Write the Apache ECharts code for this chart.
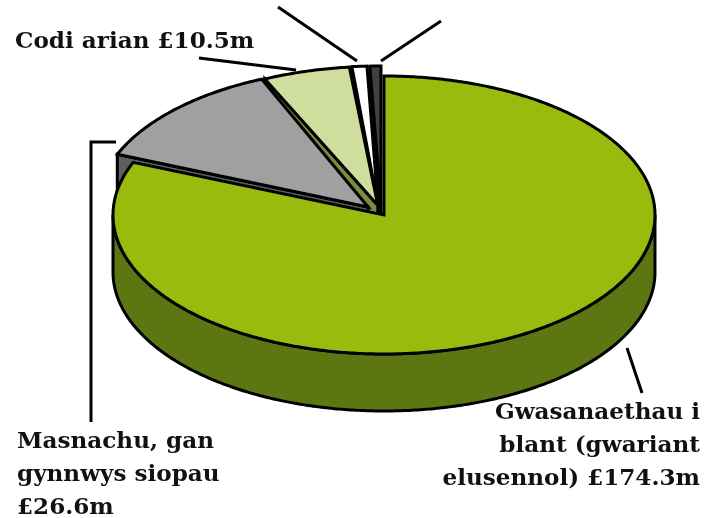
<!DOCTYPE html>
<html><head><meta charset="utf-8">
<style>html,body{margin:0;padding:0;background:#fff}#c{width:718px;height:518px}</style>
<script src="https://cdn.jsdelivr.net/npm/echarts@6/dist/echarts.min.js"></script>
</head><body><div id="c"></div>
<script>
// clockwise from 12 o'clock
const categories = ['Gwasanaethau i blant', 'Masnachu', 'Codi arian', 'Arall 1', 'Arall 2'];
const values = [174.3, 26.6, 10.5, 1.9, 1.4];
const topColors = ['#99BB0D', '#A0A0A0', '#CFDE9C', '#FFFFFF', '#404040'];
const sideColors = ['#5C7712', '#5F5F5F', '#7B8C3E', '#999999', '#262626'];
const paintOrder = [4, 3, 2, 1, 0];
const exploded = [0, 1, 1, 1, 1];
const nudgeX = [0, -2, -1, -4.6, -2.6];
const nudgeY = [0, -1, 0, 0, 0];
const startNudgeDeg = [0, 0, -1.5, 0, 0];
const endNudgeDeg = [0, 0, -0.5, 0, 0];

const labelLines = [
  {lines: ['Codi arian £10.5m'], x: 15, y: 48, align: 'left'},
  {lines: ['Masnachu, gan', 'gynnwys siopau', '£26.6m'], x: 17, y: 448, align: 'left'},
  {lines: ['Gwasanaethau i', 'blant (gwariant', 'elusennol) £174.3m'], x: 700, y: 419, align: 'right'}
];
const leaders = [
  [[199,58],[296,70]],
  [[278,7],[357,61]],
  [[441,21],[381,61]],
  [[116,142],[91,142],[91,422]],
  [[627,348],[642,393]]
];

const cx = 384, cy = 215, rx = 271, ry = 139, depth = 57, explode = 0.072, sw = 3;
const DEG = Math.PI/180;
const total = values.reduce((a,b)=>a+b,0);
let acc = 0;
const slices = values.map((v,i)=>{const s=acc/total*Math.PI*2; acc+=v; return {s:s+startNudgeDeg[i]*DEG, e:acc/total*Math.PI*2+endNudgeDeg[i]*DEG};});

function renderItem(params, api){
  const i = api.value(0);
  const {s,e} = slices[i];
  const m = (s+e)/2, k = exploded[i]*explode;
  const ox = cx + Math.sin(m)*rx*k + nudgeX[i], oy = cy - Math.cos(m)*ry*k + nudgeY[i];
  const P = (t,dz=0)=>[ox+Math.sin(t)*rx, oy-Math.cos(t)*ry+dz];
  const arc = (a,b,dz=0)=>{const n=Math.max(2,Math.ceil(Math.abs(b-a)/0.01)),r=[];for(let j=0;j<=n;j++)r.push(P(a+(b-a)*j/n,dz));return r;};
  const style = f=>({fill:f,stroke:'#000',lineWidth:sw,lineJoin:'miter',miterLimit:10});
  const children = [];
  if (i===0){
    const a=Math.PI/2,b=Math.PI*1.5;
    const top=arc(a,b),bot=arc(b,a,depth);
    children.push({type:'polygon',shape:{points:top.concat(bot)},style:style(sideColors[i])});
  } else {
    const w=[[ox,oy],P(s),P(s,depth),[ox,oy+depth]];
    children.push({type:'polygon',shape:{points:w},style:style(sideColors[i])});
  }
  children.push({type:'polygon',shape:{points:[[ox,oy]].concat(arc(s,e))},style:style(topColors[i])});
  return {type:'group',children};
}

const graphics=[];
leaders.forEach(pts=>graphics.push({type:'polyline',z:10,shape:{points:pts},style:{fill:null,stroke:'#000',lineWidth:3}}));
labelLines.forEach(l=>l.lines.forEach((t,j)=>graphics.push({type:'text',z:11,x:l.x,y:l.y+5+j*33,scaleX:1.05,
  style:{text:t,fill:'#111',fontFamily:'DejaVu Serif',fontWeight:'bold',fontSize:22,align:l.align,verticalAlign:'bottom'}})));

const chart=echarts.init(document.getElementById('c'),null,{renderer:'canvas'});
chart.setOption({
  animation:false,
  backgroundColor:'#fff',
  graphic:graphics,
  series:[{type:'custom',coordinateSystem:'none',silent:true,renderItem,
    data:paintOrder.map(i=>({name:categories[i],value:[i,values[i]]}))}]
});
</script></body></html>
